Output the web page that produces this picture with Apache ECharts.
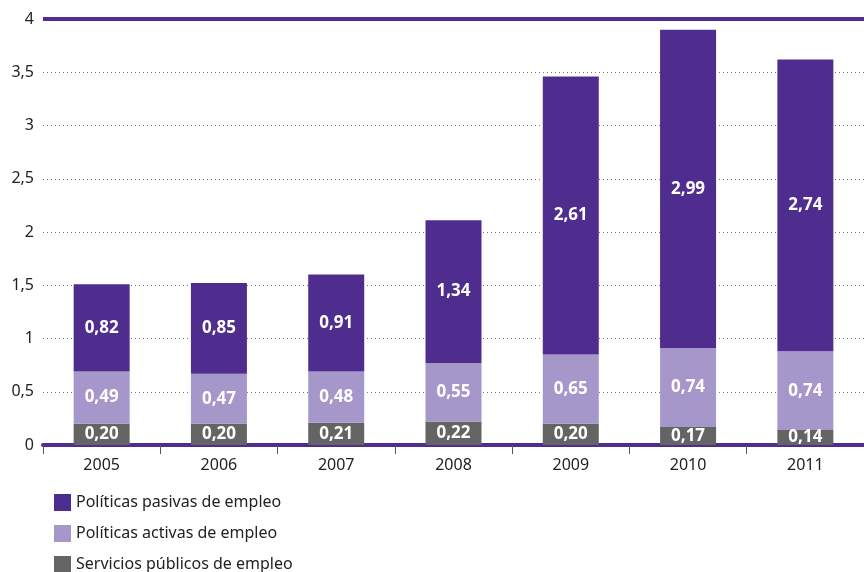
<!DOCTYPE html>
<html><head><meta charset="utf-8">
<script src="https://cdn.jsdelivr.net/npm/echarts@6/dist/echarts.min.js"></script>
<style>html,body{margin:0;padding:0;background:#fff}#c{width:864px;height:572px}</style>
</head><body><div id="c"></div>
<script>
var categories = ['2005','2006','2007','2008','2009','2010','2011'];
var servicios = [0.20,0.20,0.21,0.22,0.20,0.17,0.14];
var activas = [0.49,0.47,0.48,0.55,0.65,0.74,0.74];
var pasivas = [0.82,0.85,0.91,1.34,2.61,2.99,2.74];
var names = ['Servicios públicos de empleo','Políticas activas de empleo','Políticas pasivas de empleo'];
var colors = ['#646464','#a597c9','#4f2d8e'];
var font = 'Noto Sans';
function fmt(v){return v.toFixed(2).replace('.',',');}
function mk(name,data,color,extra){
  var s = {name:name,type:'bar',stack:'t',data:data,barWidth:56,
    itemStyle:{color:color},
    label:{show:true,position:'inside',color:'#fff',fontWeight:'bold',fontSize:17,fontFamily:font,
      formatter:function(p){return fmt(p.value);}}};
  if(extra) Object.assign(s,extra);
  return s;
}
var chart = echarts.init(document.getElementById('c'));
chart.setOption({
  animation:false,
  grid:{left:43,right:0,top:19,bottom:127},
  legend:{orient:'vertical',left:49,top:489,height:200,itemGap:14,itemWidth:17,itemHeight:17,
    data:[names[2],names[1],names[0]],
    textStyle:{fontSize:16,fontFamily:font,color:'#222'},icon:'rect'},
  xAxis:{type:'category',data:categories,
    axisLine:{lineStyle:{color:'#4f2d8e',width:4}},
    axisTick:{show:true,length:9,lineStyle:{color:'#555',width:1}},
    axisLabel:{fontSize:16,fontFamily:font,color:'#222',margin:12}},
  yAxis:{type:'value',min:0,max:4,interval:0.5,
    axisLine:{show:false},axisTick:{show:false},
    axisLabel:{fontSize:16,fontFamily:font,color:'#222',margin:9,
      formatter:function(v){return String(v).replace('.',',');}},
    splitLine:{lineStyle:{color:'#777',type:[1,3],width:1}}},
  series:[
    mk(names[0],servicios,colors[0]),
    mk(names[1],activas,colors[1]),
    mk(names[2],pasivas,colors[2],{markLine:{silent:true,symbol:'none',label:{show:false},
      lineStyle:{color:'#4f2d8e',width:4,type:'solid'},data:[{yAxis:4}]}})
  ]
});
</script></body></html>
